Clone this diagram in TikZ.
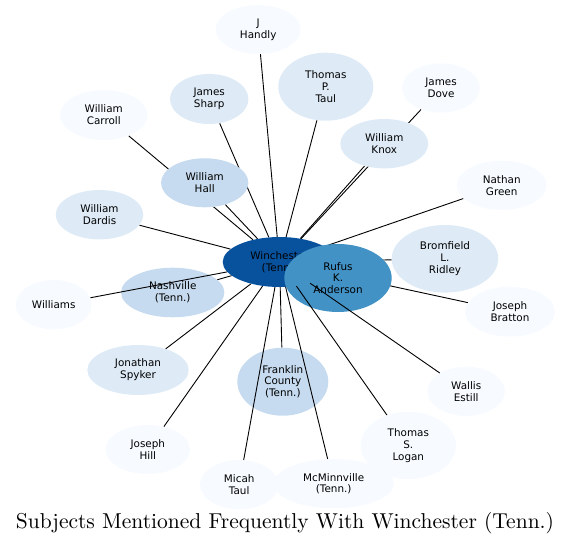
\documentclass[tikz,border=0pt]{standalone}
\usepackage{fontspec}
\usepackage{graphicx}
\newfontfamily\dejavu{DejaVu Sans}
\usetikzlibrary{shapes.geometric}
\definecolor{bone}{HTML}{F7FBFF}
\definecolor{btwo}{HTML}{DEEBF7}
\definecolor{bthree}{HTML}{C6DBEF}
\definecolor{bsix}{HTML}{4292C6}
\definecolor{beight}{HTML}{08519C}
\tikzset{
  ent/.style={ellipse, inner sep=0pt, draw=none, align=center, text=black,
    font=\dejavu\fontsize{10.4}{11.8}\selectfont},
  cone/.style={fill=bone}, ctwo/.style={fill=btwo}, cthree/.style={fill=bthree},
  csix/.style={fill=bsix}, ceight/.style={fill=beight},
  sz/.style 2 args={minimum width=2*#1 pt, minimum height=2*#2 pt},
  link/.style={draw=black, line width=0.9pt}
}
\begin{document}
\begin{tikzpicture}[x=1pt,y=-1pt]
\useasboundingbox (0,0) rectangle (571,545);
% node positions
\path
  coordinate (phandly) at (258.2,29.5)
  coordinate (ptaulp) at (325.8,86.7)
  coordinate (pdove) at (441,88)
  coordinate (psharp) at (209.2,99)
  coordinate (pcarroll) at (103.8,115)
  coordinate (pknox) at (384.3,143.7)
  coordinate (phall) at (204.7,182.8)
  coordinate (pgreen) at (501.7,185.3)
  coordinate (pdardis) at (99.5,214.7)
  coordinate (pwin) at (279.5,262)
  coordinate (prufus) at (338,278)
  coordinate (pridley) at (445,258.8)
  coordinate (pnash) at (172.7,292.5)
  coordinate (pwilliams) at (53.7,304.7)
  coordinate (pbratton) at (510,311.7)
  coordinate (pspyker) at (138,370)
  coordinate (pfranklin) at (282.8,381.7)
  coordinate (pestill) at (466.2,391.3)
  coordinate (phill) at (147.8,449.5)
  coordinate (plogan) at (408.3,445.5)
  coordinate (pmicah) at (239.2,484.7)
  coordinate (pmcm) at (333.7,483.7);
% invisible shape nodes for edge clipping
\begin{scope}[every node/.style={ent, fill=none, text opacity=0}]
\node[sz={42.5}{24.5}] (handly) at (phandly) {};
\node[sz={47.5}{34}] (taulp) at (ptaulp) {};
\node[sz={39}{24.7}] (dove) at (pdove) {};
\node[sz={39.2}{25}] (sharp) at (psharp) {};
\node[sz={43.8}{25}] (carroll) at (pcarroll) {};
\node[sz={44}{24.7}] (knox) at (pknox) {};
\node[sz={43.7}{24.5}] (hall) at (phall) {};
\node[sz={45}{24.7}] (green) at (pgreen) {};
\node[sz={43.8}{24.7}] (dardis) at (pdardis) {};
\node[sz={56.8}{25}] (win) at (pwin) {};
\node[sz={53.7}{34}] (rufus) at (prufus) {};
\node[sz={53.3}{33.8}] (ridley) at (pridley) {};
\node[sz={51.7}{24.8}] (nash) at (pnash) {};
\node[sz={38}{24.7}] (williams) at (pwilliams) {};
\node[sz={45}{25}] (bratton) at (pbratton) {};
\node[sz={50.7}{25}] (spyker) at (pspyker) {};
\node[sz={45.5}{34}] (franklin) at (pfranklin) {};
\node[sz={38.8}{24.7}] (estill) at (pestill) {};
\node[sz={42.2}{24.5}] (hill) at (phill) {};
\node[sz={47.7}{33.8}] (logan) at (plogan) {};
\node[sz={39.2}{24.7}] (micah) at (pmicah) {};
\node[sz={60.3}{24.7}] (mcm) at (pmcm) {};
\end{scope}
% edges drawn beneath the nodes
\foreach \t in {handly,taulp,dove,sharp,carroll,knox,hall,green,dardis,rufus,ridley,nash,bratton,spyker,franklin,hill}
  \draw[link] (win) -- (\t);
% visible nodes
\node[ent,ceight,sz={56.8}{25}] (winv) at (pwin) {Winchester\\(Tenn.)};
\node[ent,cone,sz={42.5}{24.5}] (handlyv) at (phandly) {J\\Handly};
\node[ent,ctwo,sz={47.5}{34}] (taulpv) at (ptaulp) {Thomas\\P.\\Taul};
\node[ent,cone,sz={39}{24.7}] (dovev) at (pdove) {James\\Dove};
\node[ent,ctwo,sz={39.2}{25}] (sharpv) at (psharp) {James\\Sharp};
\node[ent,cone,sz={43.8}{25}] (carrollv) at (pcarroll) {William\\Carroll};
\node[ent,ctwo,sz={44}{24.7}] (knoxv) at (pknox) {William\\Knox};
\node[ent,cthree,sz={43.7}{24.5}] (hallv) at (phall) {William\\Hall};
\node[ent,cone,sz={45}{24.7}] (greenv) at (pgreen) {Nathan\\Green};
\node[ent,ctwo,sz={43.8}{24.7}] (dardisv) at (pdardis) {William\\Dardis};
\node[ent,ctwo,sz={53.3}{33.8}] (ridleyv) at (pridley) {Bromfield\\L.\\Ridley};
\node[ent,cone,sz={45}{25}] (brattonv) at (pbratton) {Joseph\\Bratton};
\node[ent,csix,sz={53.7}{34}] (rufusv) at (prufus) {Rufus\\K.\\Anderson};
\node[ent,cthree,sz={51.7}{24.8}] (nashv) at (pnash) {Nashville\\(Tenn.)};
\node[ent,cone,sz={38}{24.7}] (williamsv) at (pwilliams) {Williams};
\node[ent,ctwo,sz={50.7}{25}] (spykerv) at (pspyker) {Jonathan\\Spyker};
\node[ent,cthree,sz={45.5}{34}] (franklinv) at (pfranklin) {Franklin\\County\\(Tenn.)};
\node[ent,cone,sz={38.8}{24.7}] (estillv) at (pestill) {Wallis\\Estill};
\node[ent,cone,sz={42.2}{24.5}] (hillv) at (phill) {Joseph\\Hill};
\node[ent,cone,sz={47.7}{33.8}] (loganv) at (plogan) {Thomas\\S.\\Logan};
\node[ent,cone,sz={39.2}{24.7}] (micahv) at (pmicah) {Micah\\Taul};
\node[ent,cone,sz={60.3}{24.7}] (mcmv) at (pmcm) {McMinnville\\(Tenn.)};
% edges drawn over the nodes
\foreach \t in {williams,estill,logan,micah,mcm}
  \draw[link] (win) -- (\t);
% title
\node (title) at (285,523) {\resizebox{538pt}{!}{Subjects Mentioned Frequently With Winchester (Tenn.)}};
\end{tikzpicture}
\end{document}
